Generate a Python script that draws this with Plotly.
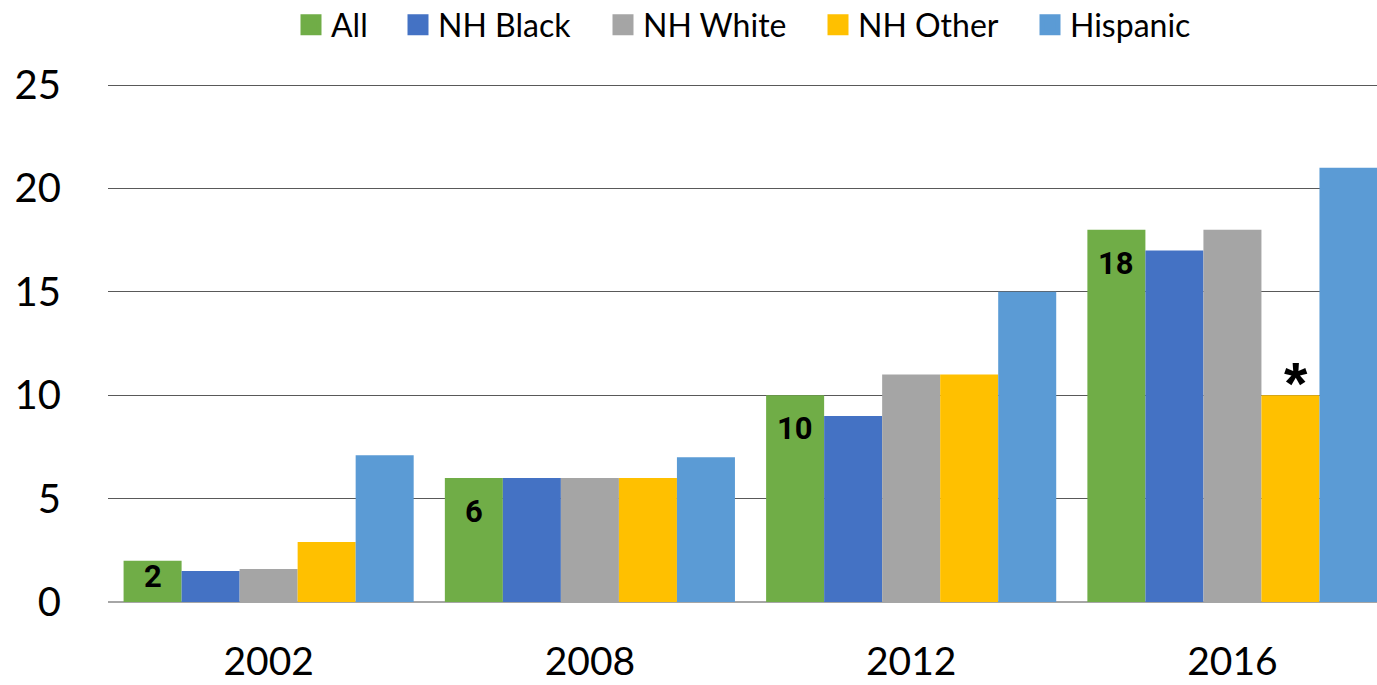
import plotly.graph_objects as go

# Survey years (categories) and percentages by group
years = ["2002", "2008", "2012", "2016"]
all_vals = [2, 6, 10, 18]
nh_black = [1.5, 6, 9, 17]
nh_white = [1.6, 6, 11, 18]
nh_other = [2.9, 6, 11, 10]
hispanic = [7.1, 7, 15, 21]

# Flag shown above the 2016 NH Other estimate
nh_other_flags = ["", "", "", "*"]

series = [
    ("All", all_vals, "#70AD47"),
    ("NH Black", nh_black, "#4472C4"),
    ("NH White", nh_white, "#A5A5A5"),
    ("NH Other", nh_other, "#FFC000"),
    ("Hispanic", hispanic, "#5B9BD5"),
]

# Left edge (px) of each legend entry's swatch
legend_x_px = [299, 406, 611, 826, 1038]

BASE_FONT = "Lato, 'Open Sans', Arial, sans-serif"
LABEL_FONT = "Roboto, 'Liberation Sans', Arial, sans-serif"
BARGAP = 0.097
W, H = 1377, 685

fig = go.Figure()

legend_layouts = {}
for k, (name, vals, color) in enumerate(series):
    lg = "legend" if k == 0 else f"legend{k + 1}"
    fig.add_trace(go.Bar(
        x=years, y=vals, name=name,
        marker=dict(color=color, line=dict(width=0)),
        showlegend=False,
        hoverinfo="skip",
    ))
    # legend swatch (larger square than the default bar icon)
    fig.add_trace(go.Scatter(
        x=[None], y=[None], mode="markers", name=name, legend=lg,
        marker=dict(symbol="square", size=16, color=color,
                    line=dict(color=color, width=5)),
        showlegend=True,
    ))
    legend_layouts[lg] = dict(
        orientation="h", xref="container", yref="container",
        x=(legend_x_px[k] - 8) / W, xanchor="left",
        y=1 - 25 / H, yanchor="middle",
        font=dict(family=BASE_FONT, size=32, color="black"),
        itemsizing="trace", bgcolor="rgba(0,0,0,0)",
    )

# Value labels inside the top of the "All" bars
n_series = len(series)
bar_w = (1 - BARGAP) / n_series
for i, v in enumerate(all_vals):
    pad = 20 if v > 4 else 2
    fig.add_annotation(
        x=i - 2 * bar_w, y=v, text=str(v), showarrow=False,
        yanchor="top", yshift=-pad + 7,
        font=dict(family=LABEL_FONT, size=31, color="black", weight="bold"),
    )

# Asterisk above the flagged NH Other bar
for i, (v, flag) in enumerate(zip(nh_other, nh_other_flags)):
    if flag:
        fig.add_annotation(
            x=i + 1 * bar_w, y=v, text=flag, showarrow=False,
            yanchor="bottom", yshift=-24, xshift=6,
            font=dict(family="'Liberation Sans', Arial, sans-serif", size=60,
                      color="black", weight="bold"),
        )

fig.update_layout(
    width=W, height=H,
    margin=dict(l=108, r=0, t=83, b=83, pad=0),
    paper_bgcolor="white", plot_bgcolor="white",
    barmode="group", bargap=BARGAP, bargroupgap=0,
    font=dict(family=BASE_FONT, color="black"),
    xaxis=dict(
        range=[-0.5, 3.45], showgrid=False, showline=False, ticks="",
        tickfont=dict(family=BASE_FONT, size=39, color="black"),
        ticklabelstandoff=33, fixedrange=True, automargin=False,
    ),
    yaxis=dict(
        range=[0, 25.1], tickvals=[0, 5, 10, 15, 20, 25],
        showgrid=True, gridcolor="#595959",
        gridwidth=1, zeroline=True, zerolinecolor="#A6A6A6", zerolinewidth=1.5,
        showline=False, ticks="",
        tickfont=dict(family=BASE_FONT, size=40, color="black"),
        ticklabelstandoff=46, fixedrange=True, automargin=False,
    ),
    **legend_layouts,
)

fig.write_html("out.html")
